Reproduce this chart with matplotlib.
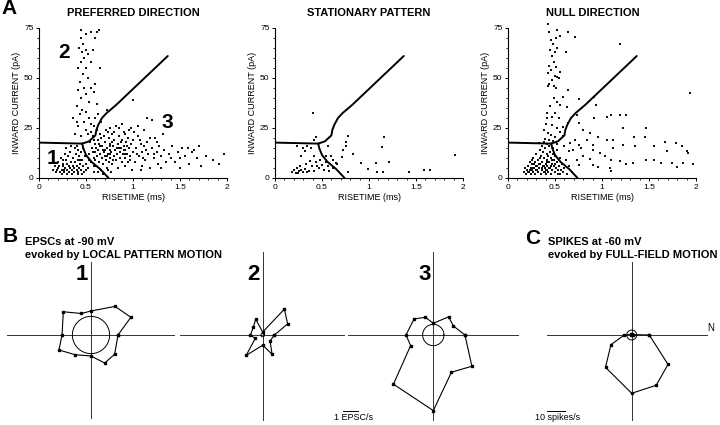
import matplotlib
matplotlib.use('Agg')
import matplotlib.pyplot as plt
import numpy as np
from matplotlib.ticker import MultipleLocator

plt.rcParams['font.family'] = ['Liberation Sans', 'DejaVu Sans']

# ---- panel A data: (risetime ms, inward current pA) ----
pref_pts = np.array([
    # region 1
    [0.15, 4], [0.18, 3], [0.2, 5], [0.22, 3], [0.24, 4], [0.25, 6], [0.27, 3], [0.28, 5], [0.3, 4], [0.3, 7],
    [0.32, 3], [0.33, 5], [0.35, 4], [0.36, 6], [0.37, 3], [0.38, 8], [0.4, 4], [0.4, 6], [0.42, 3], [0.43, 5],
    [0.44, 7], [0.45, 4], [0.46, 9], [0.47, 6], [0.48, 3], [0.2, 8], [0.23, 10], [0.26, 7], [0.29, 9], [0.31, 11],
    [0.34, 8], [0.36, 10], [0.39, 12], [0.41, 9], [0.43, 11], [0.45, 13], [0.33, 13], [0.28, 12], [0.38, 15],
    [0.42, 14], [0.47, 15], [0.25, 9], [0.21, 6], [0.19, 4], [0.35, 2], [0.41, 2], [0.46, 2], [0.27, 4], [0.32, 6],
    [0.37, 5], [0.44, 9], [0.49, 11], [0.5, 7], [0.5, 4], [0.24, 2], [0.3, 2], [0.17, 6], [0.34, 16], [0.29, 15],
    [0.4, 16],
    # region 3, dense part
    [0.52, 5], [0.53, 12], [0.54, 18], [0.55, 8], [0.56, 15], [0.57, 21], [0.58, 10], [0.59, 3], [0.6, 13],
    [0.6, 17], [0.61, 6], [0.62, 11], [0.63, 19], [0.63, 14], [0.64, 8], [0.65, 22], [0.65, 12], [0.66, 4],
    [0.67, 16], [0.67, 10], [0.68, 7], [0.69, 13], [0.7, 18], [0.7, 11], [0.71, 24], [0.71, 9], [0.72, 15],
    [0.72, 5], [0.73, 12], [0.74, 20], [0.74, 8], [0.75, 14], [0.75, 17], [0.76, 10], [0.77, 3], [0.77, 13],
    [0.78, 22], [0.78, 7], [0.79, 16], [0.8, 11], [0.8, 19], [0.81, 14], [0.82, 9], [0.82, 26], [0.83, 12],
    [0.84, 17], [0.84, 5], [0.85, 21], [0.86, 13], [0.86, 10], [0.87, 15], [0.88, 8], [0.88, 19], [0.89, 12],
    [0.9, 23], [0.9, 16], [0.91, 6], [0.92, 14], [0.92, 10], [0.93, 18], [0.94, 12], [0.95, 20], [0.95, 8],
    [0.96, 15], [0.97, 11], [0.98, 25], [0.98, 17], [0.99, 4], [1.0, 13], [1.0, 19], [0.55, 23], [0.58, 19],
    [0.62, 24], [0.66, 20], [0.69, 21], [0.73, 23], [0.76, 25], [0.8, 23], [0.85, 25], [0.88, 27], [0.92, 22],
    [0.96, 24], [0.53, 9], [0.57, 13], [0.61, 15], [0.64, 17], [0.68, 14], [0.72, 11], [0.76, 16], [0.79, 9],
    [0.83, 15], [0.87, 18], [0.91, 12], [0.94, 16], [0.97, 9], [0.6, 9], [0.7, 14], [0.75, 12], [0.78, 18],
    [0.85, 15], [0.65, 16], [0.9, 14], [0.58, 6], [0.63, 3], [0.68, 2], [0.73, 4],
    # region 3, middle
    [1.02, 8], [1.03, 15], [1.05, 21], [1.06, 11], [1.08, 17], [1.1, 6], [1.1, 13], [1.12, 24], [1.13, 9],
    [1.15, 18], [1.16, 12], [1.18, 5], [1.2, 15], [1.2, 29], [1.22, 10], [1.23, 20], [1.25, 13], [1.27, 7],
    [1.28, 16], [1.3, 11], [1.32, 22], [1.33, 14], [1.35, 8], [1.15, 30], [1.05, 26], [1.08, 4], [1.12, 16],
    [1.18, 20], [1.25, 18], [1.3, 5], [1.04, 12], [1.07, 19], [1.14, 14], [1.22, 12], [1.01, 23], [1.11, 10],
    # region 3, tail
    [1.38, 12], [1.42, 16], [1.45, 8], [1.48, 13], [1.5, 5], [1.52, 15], [1.55, 11], [1.58, 15], [1.6, 7],
    [1.63, 13], [1.68, 10], [1.7, 16], [1.72, 6], [1.78, 11], [1.85, 9], [1.92, 7], [1.97, 12], [1.4, 10],
    [1.5, 10], [1.65, 14],
    # region 2
    [0.45, 74], [0.5, 72], [0.55, 73], [0.62, 73], [0.45, 70], [0.47, 67], [0.43, 65], [0.46, 63], [0.5, 64],
    [0.52, 62], [0.48, 60], [0.45, 58], [0.55, 58], [0.42, 55], [0.5, 55], [0.47, 52], [0.52, 50], [0.44, 48],
    [0.48, 45], [0.55, 45], [0.42, 44], [0.5, 42], [0.58, 43], [0.45, 40], [0.53, 38], [0.62, 37], [0.4, 36],
    [0.46, 34], [0.5, 33], [0.44, 32], [0.53, 30], [0.36, 30], [0.4, 28], [0.48, 28], [0.6, 30], [0.55, 27],
    [0.42, 26], [0.5, 24], [0.38, 22], [0.45, 21], [0.52, 22], [0.58, 26], [0.63, 32], [0.66, 28], [0.6, 47],
    [0.65, 55], [0.57, 64], [0.6, 70], [0.64, 74], [1.0, 39], [0.72, 34],
])

stat_pts = np.array([
    [0.40, 32.3], [0.44, 20.7], [0.41, 19.1], [0.78, 21], [0.76, 18.2], [1.16, 20.7], [1.14, 15.3], [1.91, 11.4],
    [1.21, 8.1], [1.07, 7.5], [0.92, 7.5], [0.83, 12.1], [0.76, 15.8], [0.72, 13.8], [0.71, 10.4], [0.66, 7.1],
    [0.56, 15.8], [0.6, 10.8], [0.62, 9.1], [0.54, 10.8], [0.54, 7.8], [0.56, 6.1], [0.78, 2.8], [0.99, 4.5],
    [1.08, 2.8], [1.15, 2.8], [1.43, 2.8], [1.59, 3.8], [1.65, 3.8],
    [0.18, 2.8], [0.2, 4.1], [0.23, 5], [0.24, 2.5], [0.27, 5.8], [0.28, 3.8], [0.3, 2.8], [0.32, 4.5],
    [0.33, 7], [0.36, 3.3], [0.37, 8.3], [0.39, 5.8], [0.41, 10.8], [0.42, 3.3], [0.44, 7.8], [0.45, 5.8],
    [0.47, 5], [0.5, 6.6], [0.28, 10.8], [0.32, 13.3], [0.23, 15.8], [0.34, 15.8], [0.38, 15], [0.3, 15],
    [0.22, 2.5], [0.26, 3.3], [0.34, 2.8], [0.48, 9.1], [0.52, 4.1], [0.57, 3.3], [0.62, 5], [0.65, 7.5],
])

null_pts = np.array([
    # region 2
    [0.43, 76.8], [0.44, 73], [0.52, 74], [0.55, 71], [0.64, 73], [0.71, 70.5], [0.46, 69], [0.48, 67],
    [0.51, 70], [0.45, 64], [0.5, 63], [0.52, 65], [0.62, 63], [0.47, 61], [0.49, 58], [0.44, 56], [0.51, 55.5],
    [0.46, 54], [0.55, 53], [0.43, 52.5], [0.5, 51], [0.52, 50.5], [0.47, 49], [0.54, 50], [0.44, 47],
    [0.49, 46], [0.51, 45], [0.43, 45.8], [0.64, 44], [0.58, 40.6], [0.49, 39.8], [0.75, 39.3], [0.52, 38],
    [0.55, 36.5], [0.63, 35.7], [0.45, 36], [0.41, 32.7], [0.5, 32.3], [0.47, 30.7], [0.54, 29.8], [0.73, 31.5],
    [0.64, 27.4], [0.47, 26.5], [0.52, 24.9], [0.58, 25.7], [0.43, 22.4], [0.46, 21.6], [0.55, 23.2],
    [0.5, 20.7], [0.59, 21.1], [0.39, 19.4], [0.38, 24], [0.42, 30], [0.4, 27],
    # region 3
    [1.19, 67.2], [1.94, 42.3], [0.92, 40.6], [0.94, 36.5], [1.1, 31.5], [1.19, 31.5], [1.26, 31.5],
    [1.05, 30.7], [0.76, 27.4], [0.92, 29.8], [1.22, 24.9], [1.47, 24.9], [1.34, 20.4], [1.46, 20.7],
    [1.67, 18.2], [1.79, 17.7], [0.8, 24], [0.87, 22.4], [0.96, 20.7], [1.05, 19], [1.12, 19], [1.35, 15.8],
    [1.55, 16], [1.85, 16.2], [1.9, 13.3], [1.92, 12.4], [1.69, 13.3], [1.12, 14.9], [1.22, 16.6], [0.84, 19],
    [0.9, 16.6], [0.78, 14.9], [0.9, 14], [0.98, 12.4], [1.03, 10.8], [1.1, 9.1], [0.8, 10.8], [0.87, 9.5],
    [0.73, 9.1], [0.76, 6.6], [0.9, 6.6], [0.96, 5.5], [1.08, 5], [1.1, 3.3], [1.19, 8.3], [1.26, 7.1],
    [1.33, 7.5], [1.63, 7.5], [1.74, 7.5], [1.8, 5.5], [1.86, 7.5], [1.97, 7.1], [1.55, 9.1], [1.47, 9.1],
    [0.69, 14], [0.66, 17.4], [0.71, 19], [0.75, 16.6], [0.65, 13.3], [0.6, 15.8],
    # region 1
    [0.17, 3], [0.18, 5], [0.19, 2], [0.2, 4], [0.21, 6], [0.22, 3], [0.23, 8], [0.24, 5], [0.24, 2], [0.25, 4],
    [0.26, 7], [0.27, 3], [0.27, 10], [0.28, 5], [0.29, 2], [0.29, 8], [0.3, 4], [0.3, 12], [0.31, 6], [0.32, 3],
    [0.32, 9], [0.33, 5], [0.34, 14], [0.34, 7], [0.35, 2], [0.35, 11], [0.36, 4], [0.36, 8], [0.37, 6],
    [0.37, 13], [0.38, 3], [0.38, 10], [0.39, 5], [0.39, 15], [0.4, 7], [0.4, 2], [0.41, 9], [0.41, 12],
    [0.42, 4], [0.42, 6], [0.43, 11], [0.43, 3], [0.44, 8], [0.44, 16], [0.45, 5], [0.45, 13], [0.46, 2],
    [0.46, 10], [0.47, 7], [0.47, 4], [0.48, 12], [0.48, 15], [0.49, 6], [0.49, 9], [0.5, 3], [0.5, 11],
    [0.51, 5], [0.52, 8], [0.52, 14], [0.53, 2], [0.54, 6], [0.55, 10], [0.56, 4], [0.57, 7], [0.58, 3],
    [0.6, 5], [0.62, 9], [0.63, 2], [0.65, 6], [0.68, 3], [0.26, 5], [0.31, 4], [0.33, 7], [0.36, 5], [0.39, 3],
    [0.42, 8], [0.44, 5], [0.28, 7], [0.23, 4], [0.34, 10], [0.38, 6], [0.4, 4], [0.47, 9], [0.5, 7], [0.53, 4],
    [0.21, 3], [0.25, 9], [0.3, 6], [0.46, 6], [0.55, 2], [0.38, 18], [0.41, 17], [0.44, 19], [0.48, 18.5],
    [0.52, 17], [0.36, 16], [0.33, 17.5],
])

# boundaries between the three EPSC classes
bound_flat_x = [0, 0.46]
bound_flat_y = [17.7, 17.2]
bound_low_x = [0.46, 0.47, 0.5, 0.56, 0.65, 0.74]
bound_low_y = [17.2, 15, 11.5, 8, 4.5, 0]
bound_up_x = [0.46, 0.53, 0.6, 0.61, 0.63, 0.67, 0.72, 0.82, 1.37]
bound_up_y = [17.2, 18.3, 21.3, 24, 26.5, 30, 32.5, 36.5, 61]

a_titles = ['PREFERRED DIRECTION', 'STATIONARY PATTERN', 'NULL DIRECTION']

# ---- panels B and C: direction tuning ----
directions = [0, 24, 50, 90, 114, 140, 180, 205, 231, 270, 296, 321]
epsc_1 = [1.80, 2.91, 2.49, 1.60, 1.57, 2.41, 1.93, 2.36, 1.69, 1.40, 2.08, 2.03]
epsc_2 = [0.78, 1.82, 2.25, 0.20, 1.16, 0.81, 0.82, 0.55, 1.75, 0.68, 1.43, 0.63]
epsc_3 = [2.11, 1.47, 1.58, 0.78, 1.29, 1.67, 1.82, 1.67, 4.22, 5.04, 2.76, 3.31]
spikes = [9.6, 0.5, 0.3, 0.3, 0.3, 0.3, 4.0, 12.5, 22.7, 31.8, 30.5, 25.5]
spont_epsc = [1.24, 0.12, 0.71]
spont_spikes = 2.7

W, H = 720, 425
fig = plt.figure(figsize=(W / 100, H / 100), dpi=100)


def px_axes(x0, y0, x1, y1):
    return fig.add_axes([x0 / W, 1 - y1 / H, (x1 - x0) / W, (y1 - y0) / H])


def ftext(x, y, s, **kw):
    fig.text(x / W, 1 - y / H, s, **kw)


# panel A
a_left = [39, 275, 508]
for i, pts in enumerate([pref_pts, stat_pts, null_pts]):
    ax = px_axes(a_left[i], 28, a_left[i] + 188, 178)
    ax.scatter(pts[:, 0], pts[:, 1], s=1.0, c='#111111', marker='s', linewidths=0, clip_on=False)
    for bx, by in [(bound_flat_x, bound_flat_y), (bound_low_x, bound_low_y), (bound_up_x, bound_up_y)]:
        ax.plot(bx, by, color='k', lw=1.4, solid_capstyle='round')
    ax.set_xlim(0, 2)
    ax.set_ylim(0, 75)
    ax.set_xticks([0, 0.5, 1, 1.5, 2])
    ax.set_xticklabels(['0', '0.5', '1', '1.5', '2'])
    ax.set_yticks([0, 25, 50, 75])
    ax.xaxis.set_minor_locator(MultipleLocator(0.1))
    ax.yaxis.set_minor_locator(MultipleLocator(5))
    ax.tick_params(labelsize=6, length=2.5, width=0.7, pad=1.5, direction='out')
    ax.tick_params(which='minor', length=1.5, width=0.6)
    for side in ['top', 'right']:
        ax.spines[side].set_visible(False)
    for side in ['left', 'bottom']:
        ax.spines[side].set_linewidth(0.8)
    ax.set_xlabel('RISETIME (ms)', fontsize=6.5, labelpad=1.5)
    ax.set_ylabel('INWARD CURRENT (pA)', fontsize=6.5, labelpad=2)

ftext(9, 9, 'A', fontsize=15, fontweight='bold', ha='center', va='center')
for cx, t in zip([133.5, 369, 593], a_titles):
    ftext(cx, 12.5, t, fontsize=8, fontweight='bold', ha='center', va='center')
ftext(53, 159, '1', fontsize=15, fontweight='bold', ha='center', va='center')
ftext(64.5, 52.5, '2', fontsize=15, fontweight='bold', ha='center', va='center')
ftext(167.5, 122.5, '3', fontsize=15, fontweight='bold', ha='center', va='center')


def polar_plot(x0, x1, cx, scale, hline, vline, r, spont):
    # scale: pixels per unit, centre at (cx, 335)
    ax = px_axes(x0, 245, x1, 425)
    ax.set_xlim((x0 - cx) / scale, (x1 - cx) / scale)
    ax.set_ylim((335 - 425) / scale, (335 - 245) / scale)
    ax.axis('off')
    ax.plot([(hline[0] - cx) / scale, (hline[1] - cx) / scale], [0, 0], color='#333333', lw=0.7)
    ax.plot([0, 0], [(335 - vline[1]) / scale, (335 - vline[0]) / scale], color='#333333', lw=0.7)
    ang = np.deg2rad(directions + [directions[0]])
    rr = np.array(r + [r[0]])
    ax.plot(rr * np.cos(ang), rr * np.sin(ang), color='k', lw=0.8, marker='s', ms=1.8)
    t = np.linspace(0, 2 * np.pi, 100)
    ax.plot(spont * np.cos(t), spont * np.sin(t), color='k', lw=0.7)
    return ax


polar_plot(0, 180, 91, 15, (7, 174), (262, 418), epsc_1, spont_epsc[0])
polar_plot(180, 345, 262.7, 15, (180, 345), (252, 420), epsc_2, spont_epsc[1])
ax3 = polar_plot(345, 525, 433.3, 15, (348, 518), (252, 420), epsc_3, spont_epsc[2])
axc = polar_plot(530, 720, 631.7, 1.833, (546.7, 706.7), (262, 420), spikes, spont_spikes)

# scale bars
ax3.plot([(343 - 433.3) / 15, (343 - 433.3) / 15 + 1], [-5.05, -5.05], color='k', lw=0.7, clip_on=False)
ftext(353, 418, '1 EPSC/s', fontsize=6.5, ha='center', va='center')
axc.plot([(546.7 - 631.7) / 1.833, (546.7 - 631.7) / 1.833 + 10], [-41.3, -41.3], color='k', lw=0.7, clip_on=False)
ftext(558, 418, '10 spikes/s', fontsize=6.5, ha='center', va='center')
ftext(711, 328, 'N', fontsize=7, ha='center', va='center')

ftext(10, 236, 'B', fontsize=15, fontweight='bold', ha='center', va='center')
ftext(25, 242, 'EPSCs at -90 mV', fontsize=8, fontweight='bold', ha='left', va='center')
ftext(25, 255, 'evoked by LOCAL PATTERN MOTION', fontsize=8, fontweight='bold', ha='left', va='center')
ftext(533, 239, 'C', fontsize=15, fontweight='bold', ha='center', va='center')
ftext(548, 242, 'SPIKES at -60 mV', fontsize=8, fontweight='bold', ha='left', va='center')
ftext(548, 255, 'evoked by FULL-FIELD MOTION', fontsize=8, fontweight='bold', ha='left', va='center')
ftext(82, 274, '1', fontsize=16, fontweight='bold', ha='center', va='center')
ftext(253, 274, '2', fontsize=16, fontweight='bold', ha='center', va='center')
ftext(425, 275, '3', fontsize=16, fontweight='bold', ha='center', va='center')

fig.savefig('out.png', dpi=100, facecolor='white')
